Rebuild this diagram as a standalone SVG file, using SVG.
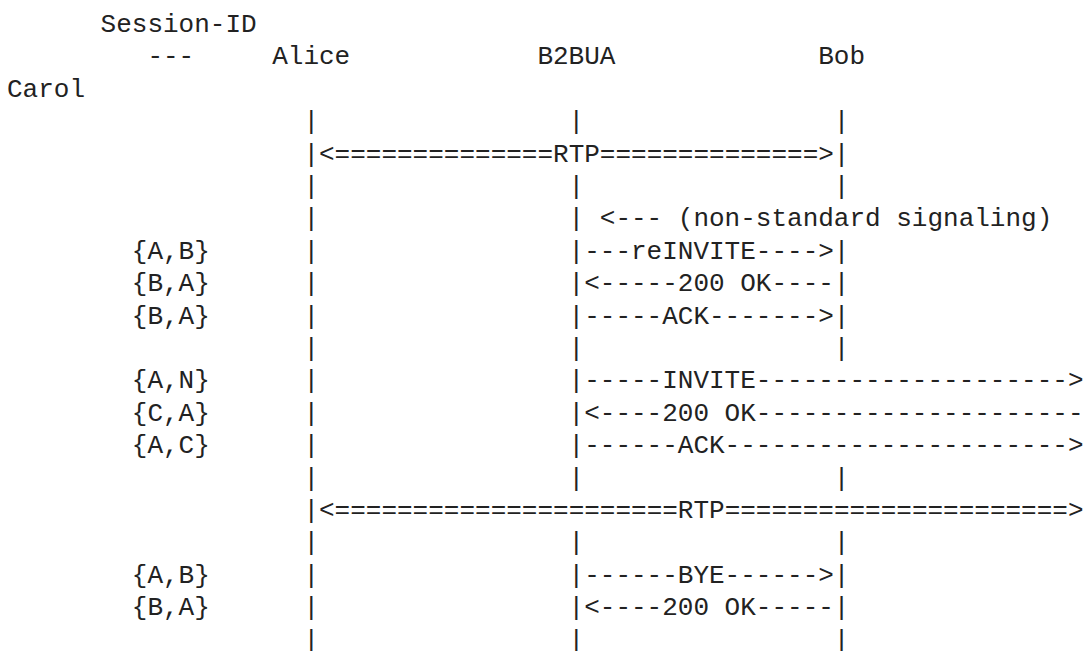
<svg xmlns="http://www.w3.org/2000/svg" width="1089" height="651" viewBox="0 0 1089 651">
<style>
text{font-family:"Liberation Mono","DejaVu Sans Mono",monospace;font-size:26px;fill:#222}
</style>
<rect width="1089" height="651" fill="#fff"/>
<g id="node-session-id"><text x="100.6" y="32">Session-ID</text><text x="147.4" y="64.4">---</text></g>
<g id="node-alice"><text x="272.2" y="64.4">Alice</text></g>
<g id="node-b2bua"><text x="537.4" y="64.4">B2BUA</text></g>
<g id="node-bob"><text x="818.2" y="64.4">Bob</text></g>
<g id="node-carol"><text x="7" y="96.8">Carol</text></g>
<g id="session-ids">
<text x="131.8" y="258.8">{A,B}</text>
<text x="131.8" y="291.2">{B,A}</text>
<text x="131.8" y="323.6">{B,A}</text>
<text x="131.8" y="388.4">{A,N}</text>
<text x="131.8" y="420.8">{C,A}</text>
<text x="131.8" y="453.2">{A,C}</text>
<text x="131.8" y="582.8">{A,B}</text>
<text x="131.8" y="615.2">{B,A}</text>
</g>
<g id="connectors">
<g id="lifeline-alice">
<text x="303.4" y="129.2">|</text><text x="303.4" y="161.6">|</text><text x="303.4" y="194">|</text><text x="303.4" y="226.4">|</text>
<text x="303.4" y="258.8">|</text><text x="303.4" y="291.2">|</text><text x="303.4" y="323.6">|</text><text x="303.4" y="356">|</text>
<text x="303.4" y="388.4">|</text><text x="303.4" y="420.8">|</text><text x="303.4" y="453.2">|</text><text x="303.4" y="485.6">|</text>
<text x="303.4" y="518">|</text><text x="303.4" y="550.4">|</text><text x="303.4" y="582.8">|</text><text x="303.4" y="615.2">|</text>
<text x="303.4" y="647.6">|</text>
</g>
<g id="lifeline-b2bua">
<text x="568.6" y="129.2">|</text><text x="568.6" y="194">|</text><text x="568.6" y="226.4">|</text>
<text x="568.6" y="356">|</text><text x="568.6" y="485.6">|</text><text x="568.6" y="550.4">|</text><text x="568.6" y="647.6">|</text>
</g>
<g id="lifeline-bob">
<text x="833.8" y="129.2">|</text><text x="833.8" y="161.6">|</text><text x="833.8" y="194">|</text>
<text x="833.8" y="356">|</text><text x="833.8" y="485.6">|</text><text x="833.8" y="550.4">|</text><text x="833.8" y="647.6">|</text>
</g>
<g id="messages">
<text x="319" y="161.6">&lt;==============RTP==============&gt;</text>
<text x="599.8" y="226.4">&lt;--- (non-standard signaling)</text>
<text x="568.6" y="258.8">|---reINVITE----&gt;|</text>
<text x="568.6" y="291.2">|&lt;-----200 OK----|</text>
<text x="568.6" y="323.6">|-----ACK-------&gt;|</text>
<text x="568.6" y="388.4">|-----INVITE--------------------&gt;</text>
<text x="568.6" y="420.8">|&lt;----200 OK---------------------</text>
<text x="568.6" y="453.2">|------ACK----------------------&gt;</text>
<text x="319" y="518">&lt;======================RTP======================&gt;</text>
<text x="568.6" y="582.8">|------BYE------&gt;|</text>
<text x="568.6" y="615.2">|&lt;----200 OK-----|</text>
</g>
</g>
</svg>
